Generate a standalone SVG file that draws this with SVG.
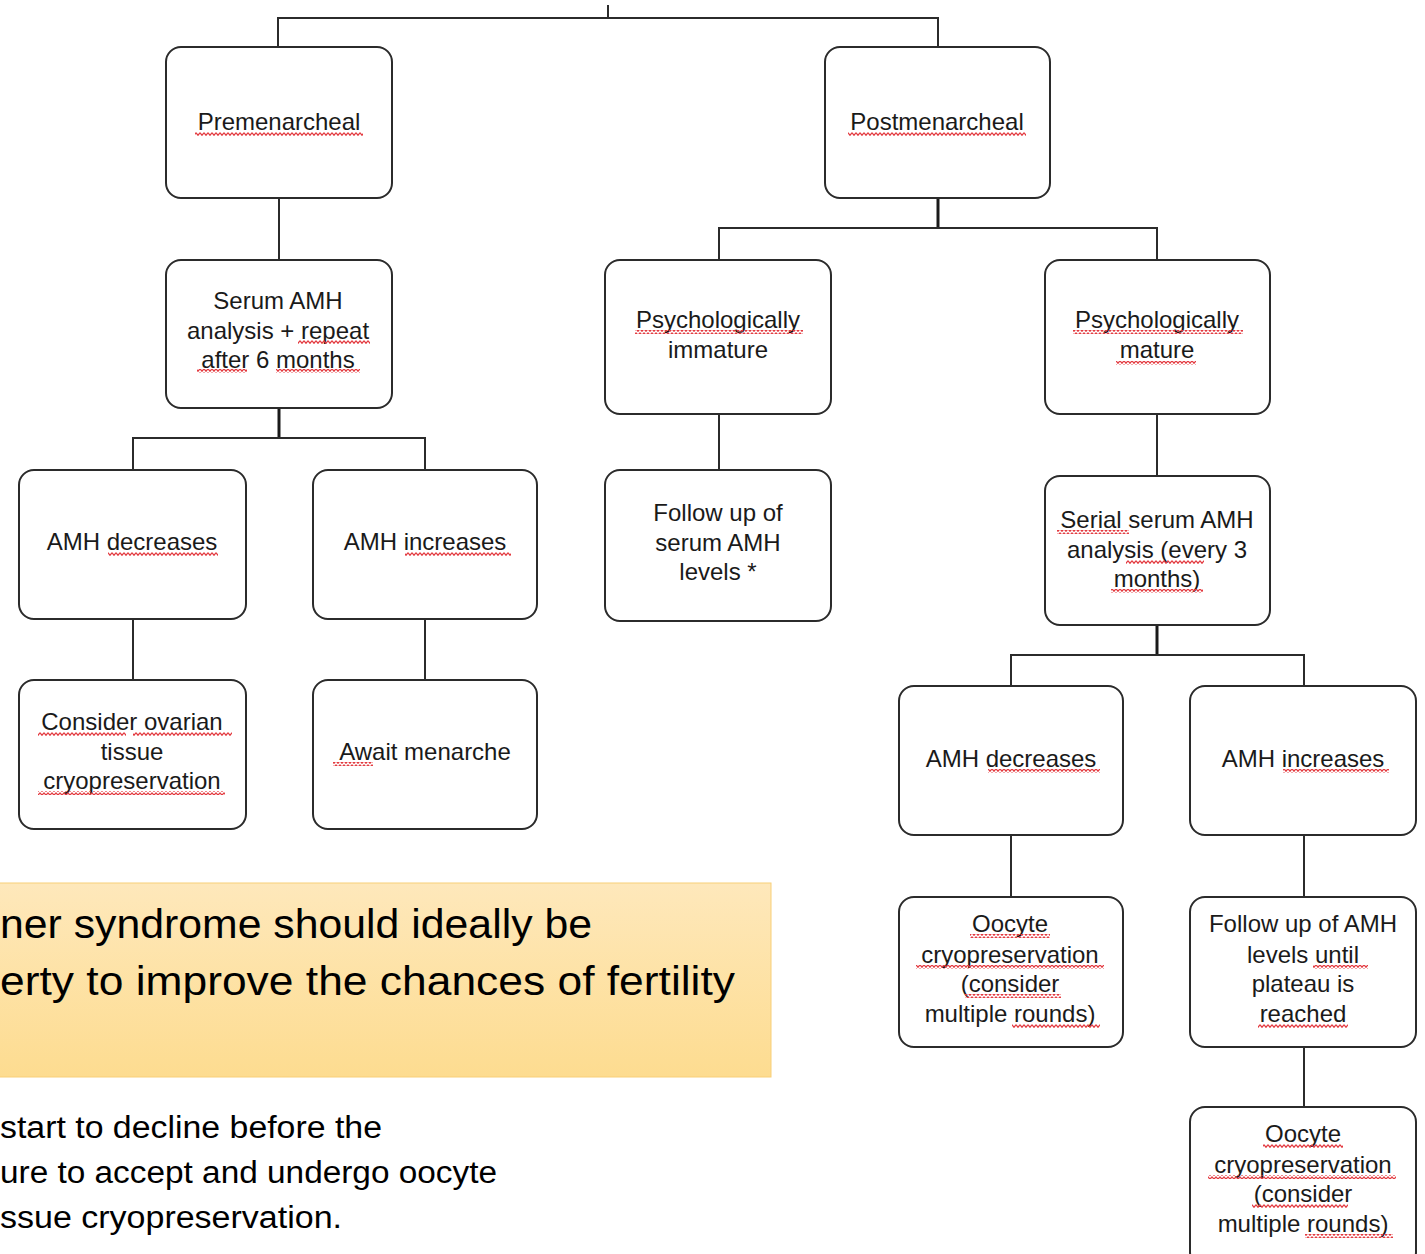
<svg xmlns="http://www.w3.org/2000/svg" width="1425" height="1254" viewBox="0 0 1425 1254">
<defs>
<style>
.box{fill:#fff;stroke:#2b2b2b;stroke-width:2}
.t{font-family:"Liberation Sans",Arial,sans-serif;font-size:24px;fill:#1a1a1a;text-anchor:middle}
.c{fill:none;stroke:#2b2b2b;stroke-width:2}
.ck{fill:none;stroke:#1a1a1a;stroke-width:3}
.big{font-family:"Liberation Sans",Arial,sans-serif;font-size:41px;fill:#000}
.mid{font-family:"Liberation Sans",Arial,sans-serif;font-size:31px;fill:#000}
.wv{fill:url(#wave)}
</style>
<pattern id="wave" width="4" height="4" patternUnits="userSpaceOnUse">
<path d="M0,0.7 L2,3.3 L4,0.7" fill="none" stroke="#e3393f" stroke-width="1.2"/>
</pattern>
<linearGradient id="yel" x1="0" y1="0" x2="0" y2="1">
<stop offset="0" stop-color="#fee8bb"/>
<stop offset="1" stop-color="#fddc90"/>
</linearGradient>
</defs>
<rect width="1425" height="1254" fill="#fff"/>

<g id="connectors">
<path class="c" d="M608,5 V18 M278,47 V18 H938 V47"/>
<path class="c" d="M279,198 V260"/>
<path class="ck" d="M279,408 V438"/>
<path class="c" d="M133,470 V438 H425 V470"/>
<path class="c" d="M133,619 V680 M425,619 V680"/>
<path class="ck" d="M938,198 V228"/>
<path class="c" d="M719,260 V228 H1157 V260"/>
<path class="c" d="M719,414 V470 M1157,414 V476"/>
<path class="ck" d="M1157,625 V655"/>
<path class="c" d="M1011,686 V655 H1304 V686"/>
<path class="c" d="M1011,835 V897 M1304,835 V897 M1304,1047 V1107"/>
</g>

<g id="note">
<rect x="-2" y="883" width="773" height="194" fill="url(#yel)" stroke="#f8cf78" stroke-width="1"/>
<text class="big" x="0" y="938" textLength="592" lengthAdjust="spacingAndGlyphs">ner syndrome should ideally be</text>
<text class="big" x="0" y="995" textLength="735" lengthAdjust="spacingAndGlyphs">erty to improve the chances of fertility</text>
<text class="mid" x="0" y="1138" textLength="382" lengthAdjust="spacingAndGlyphs">start to decline before the</text>
<text class="mid" x="0" y="1183" textLength="497" lengthAdjust="spacingAndGlyphs">ure to accept and undergo oocyte</text>
<text class="mid" x="0" y="1228" textLength="342" lengthAdjust="spacingAndGlyphs">ssue cryopreservation.</text>
</g>

<g id="premenarcheal">
<rect class="box" x="166" y="47" width="226" height="151" rx="15"/>
<text class="t" x="279" y="130">Premenarcheal</text>
<rect class="wv" x="195" y="132" width="168" height="4"/>
</g>
<g id="postmenarcheal">
<rect class="box" x="825" y="47" width="225" height="151" rx="15"/>
<text class="t" x="937" y="130">Postmenarcheal</text>
<rect class="wv" x="848" y="132" width="178" height="4"/>
</g>
<g id="serum-amh">
<rect class="box" x="166" y="260" width="226" height="148" rx="15"/>
<text class="t" x="278" y="309">Serum AMH</text>
<text class="t" x="278" y="339">analysis + repeat</text>
<text class="t" x="278" y="368">after 6 months</text>
<rect class="wv" x="298" y="340" width="72" height="4"/>
<rect class="wv" x="197" y="369" width="50" height="4"/>
<rect class="wv" x="276" y="369" width="84" height="4"/>
</g>
<g id="amh-decreases-1">
<rect class="box" x="19" y="470" width="227" height="149" rx="15"/>
<text class="t" x="132" y="550">AMH decreases</text>
<rect class="wv" x="108" y="552" width="110" height="4"/>
</g>
<g id="amh-increases-1">
<rect class="box" x="313" y="470" width="224" height="149" rx="15"/>
<text class="t" x="425" y="550">AMH increases</text>
<rect class="wv" x="405" y="552" width="106" height="4"/>
</g>
<g id="ovarian-tissue">
<rect class="box" x="19" y="680" width="227" height="149" rx="15"/>
<text class="t" x="132" y="730">Consider ovarian</text>
<text class="t" x="132" y="760">tissue</text>
<text class="t" x="132" y="789">cryopreservation</text>
<rect class="wv" x="38" y="732" width="88" height="4"/>
<rect class="wv" x="133" y="732" width="99" height="4"/>
<rect class="wv" x="38" y="791" width="187" height="4"/>
</g>
<g id="await-menarche">
<rect class="box" x="313" y="680" width="224" height="149" rx="15"/>
<text class="t" x="425" y="760">Await menarche</text>
<rect class="wv" x="333" y="762" width="40" height="4"/>
</g>
<g id="psych-immature">
<rect class="box" x="605" y="260" width="226" height="154" rx="15"/>
<text class="t" x="718" y="328">Psychologically</text>
<text class="t" x="718" y="358">immature</text>
<rect class="wv" x="635" y="330" width="168" height="4"/>
</g>
<g id="psych-mature">
<rect class="box" x="1045" y="260" width="225" height="154" rx="15"/>
<text class="t" x="1157" y="328">Psychologically</text>
<text class="t" x="1157" y="358">mature</text>
<rect class="wv" x="1073" y="330" width="170" height="4"/>
<rect class="wv" x="1116" y="361" width="80" height="4"/>
</g>
<g id="follow-up-serum">
<rect class="box" x="605" y="470" width="226" height="151" rx="15"/>
<text class="t" x="718" y="521">Follow up of</text>
<text class="t" x="718" y="551">serum AMH</text>
<text class="t" x="718" y="580">levels *</text>
</g>
<g id="serial-serum">
<rect class="box" x="1045" y="476" width="225" height="149" rx="15"/>
<text class="t" x="1157" y="528">Serial serum AMH</text>
<text class="t" x="1157" y="558">analysis (every 3</text>
<text class="t" x="1157" y="587">months)</text>
<rect class="wv" x="1057" y="530" width="72" height="4"/>
<rect class="wv" x="1126" y="560" width="78" height="4"/>
<rect class="wv" x="1111" y="589" width="92" height="4"/>
</g>
<g id="amh-decreases-2">
<rect class="box" x="899" y="686" width="224" height="149" rx="15"/>
<text class="t" x="1011" y="767">AMH decreases</text>
<rect class="wv" x="988" y="769" width="112" height="4"/>
</g>
<g id="amh-increases-2">
<rect class="box" x="1190" y="686" width="226" height="149" rx="15"/>
<text class="t" x="1303" y="767">AMH increases</text>
<rect class="wv" x="1283" y="769" width="106" height="4"/>
</g>
<g id="oocyte-1">
<rect class="box" x="899" y="897" width="224" height="150" rx="15"/>
<text class="t" x="1010" y="932">Oocyte</text>
<text class="t" x="1010" y="963">cryopreservation</text>
<text class="t" x="1010" y="992">(consider</text>
<text class="t" x="1010" y="1022">multiple rounds)</text>
<rect class="wv" x="970" y="934" width="80" height="4"/>
<rect class="wv" x="916" y="965" width="188" height="4"/>
<rect class="wv" x="965" y="994" width="96" height="4"/>
<rect class="wv" x="1012" y="1024" width="88" height="4"/>
</g>
<g id="follow-up-amh">
<rect class="box" x="1190" y="897" width="226" height="150" rx="15"/>
<text class="t" x="1303" y="932">Follow up of AMH</text>
<text class="t" x="1303" y="963">levels until</text>
<text class="t" x="1303" y="992">plateau is</text>
<text class="t" x="1303" y="1022">reached</text>
<rect class="wv" x="1313" y="965" width="55" height="4"/>
<rect class="wv" x="1258" y="1024" width="90" height="4"/>
</g>
<g id="oocyte-2">
<rect class="box" x="1190" y="1107" width="226" height="160" rx="15"/>
<text class="t" x="1303" y="1142">Oocyte</text>
<text class="t" x="1303" y="1173">cryopreservation</text>
<text class="t" x="1303" y="1202">(consider</text>
<text class="t" x="1303" y="1232">multiple rounds)</text>
<rect class="wv" x="1263" y="1144" width="80" height="4"/>
<rect class="wv" x="1208" y="1175" width="188" height="4"/>
<rect class="wv" x="1252" y="1204" width="96" height="4"/>
<rect class="wv" x="1305" y="1234" width="88" height="4"/>
</g>
</svg>
